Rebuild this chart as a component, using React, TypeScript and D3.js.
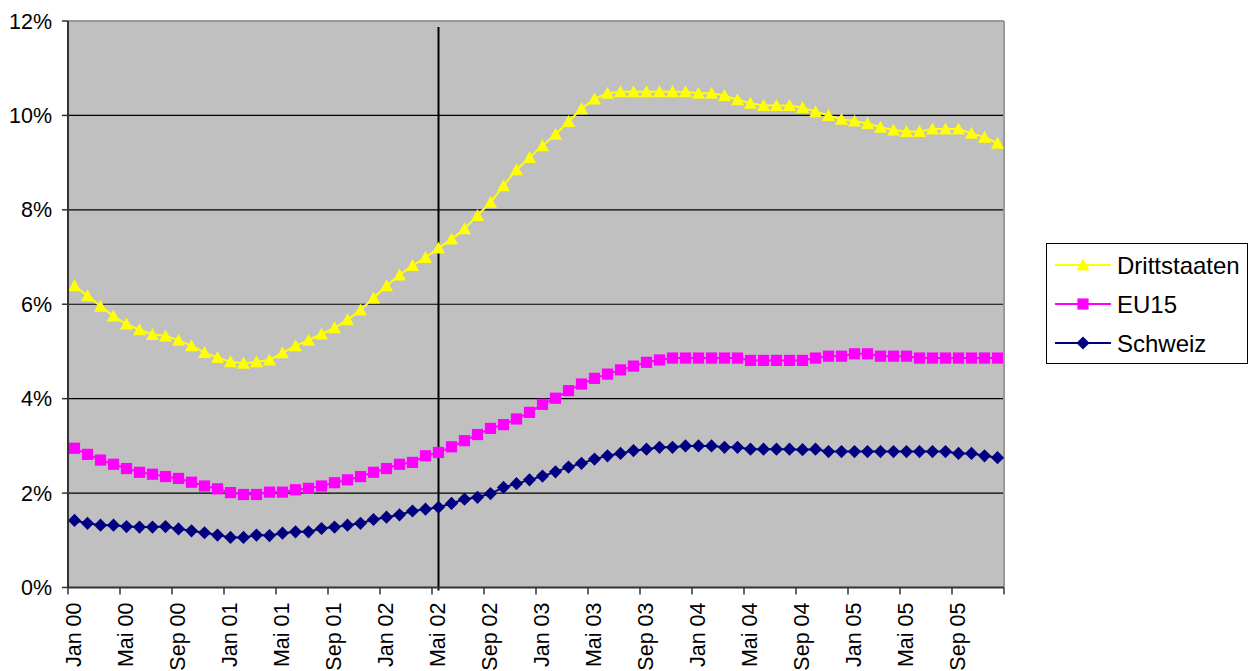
import React from 'react';
import * as d3 from 'd3';

// months Jan 00 .. Dez 05
const years = ['00', '01', '02', '03', '04', '05'];
const monthNames = ['Jan', 'Feb', 'Mär', 'Apr', 'Mai', 'Jun', 'Jul', 'Aug', 'Sep', 'Okt', 'Nov', 'Dez'];
const categories = years.flatMap(y => monthNames.map(m => `${m} ${y}`));

const drittstaaten = [
	6.39, 6.18, 5.96, 5.75, 5.58, 5.46, 5.36, 5.33, 5.24, 5.12, 4.98, 4.87,
	4.78, 4.75, 4.78, 4.82, 4.97, 5.12, 5.24, 5.37, 5.5, 5.67, 5.88, 6.13,
	6.39, 6.62, 6.82, 6.99, 7.19, 7.38, 7.6, 7.88, 8.16, 8.51, 8.85, 9.11,
	9.36, 9.6, 9.87, 10.14, 10.35, 10.47, 10.5, 10.5, 10.5, 10.5, 10.5, 10.5,
	10.47, 10.47, 10.42, 10.33, 10.26, 10.21, 10.21, 10.21, 10.17, 10.08, 10.0, 9.92,
	9.88, 9.83, 9.75, 9.69, 9.66, 9.66, 9.71, 9.71, 9.71, 9.62, 9.54, 9.41,
];
const eu15 = [
	2.95, 2.82, 2.7, 2.61, 2.52, 2.44, 2.4, 2.35, 2.31, 2.23, 2.15, 2.09,
	2.01, 1.97, 1.97, 2.02, 2.02, 2.07, 2.1, 2.15, 2.22, 2.28, 2.35, 2.44,
	2.52, 2.61, 2.65, 2.79, 2.86, 2.98, 3.11, 3.24, 3.37, 3.45, 3.57, 3.71,
	3.88, 4.01, 4.17, 4.31, 4.43, 4.52, 4.61, 4.69, 4.77, 4.82, 4.86, 4.86,
	4.86, 4.86, 4.86, 4.86, 4.81, 4.81, 4.81, 4.81, 4.81, 4.86, 4.9, 4.9,
	4.95, 4.95, 4.9, 4.9, 4.9, 4.86, 4.86, 4.86, 4.86, 4.86, 4.86, 4.86,
];
const schweiz = [
	1.42, 1.36, 1.32, 1.32, 1.29, 1.28, 1.28, 1.29, 1.24, 1.2, 1.16, 1.11,
	1.06, 1.06, 1.11, 1.1, 1.15, 1.18, 1.18, 1.25, 1.28, 1.32, 1.36, 1.44,
	1.49, 1.54, 1.62, 1.66, 1.7, 1.78, 1.87, 1.91, 1.99, 2.12, 2.2, 2.28,
	2.36, 2.45, 2.55, 2.63, 2.72, 2.79, 2.84, 2.9, 2.93, 2.97, 2.97, 3.0,
	3.0, 3.0, 2.97, 2.97, 2.93, 2.93, 2.93, 2.93, 2.92, 2.93, 2.88, 2.88,
	2.88, 2.88, 2.88, 2.88, 2.88, 2.88, 2.88, 2.88, 2.84, 2.84, 2.79, 2.75,
];
const yTicks = [0, 2, 4, 6, 8, 10, 12];
const markerMonth = 'Mai 02';

const series = [
	{ name: 'Drittstaaten', values: drittstaaten, color: '#FFFF00', shape: 'triangle' },
	{ name: 'EU15', values: eu15, color: '#FF00FF', shape: 'square' },
	{ name: 'Schweiz', values: schweiz, color: '#000080', shape: 'diamond' },
];

const W = 1256;
const H = 671;
const left = 68, right = 1004, top = 21, bottom = 587.5;

function markerPath(shape: string) {
	if (shape === 'triangle') return 'M0,-6.5L6.5,5.5L-6.5,5.5Z';
	if (shape === 'square') return 'M-5.6,-5.6H5.6V5.6H-5.6Z';
	return 'M0,-6.6L6.6,0L0,6.6L-6.6,0Z';
}

function App() {
	const x = d3.scaleBand<string>().domain(categories).range([left, right]).padding(0);
	const y = d3.scaleLinear().domain([0, 12]).range([bottom, top]);
	const cx = (c: string) => (x(c) as number) + x.bandwidth() / 2;

	const line = d3.line<number>()
		.x((d, i) => cx(categories[i]))
		.y(d => y(d));

	const tickCats = categories.filter((c, i) => i % 4 === 0);
	const font = 'Arial, "Liberation Sans", sans-serif';

	return (
		<svg width={W} height={H} style={{ position: 'absolute', left: 0, top: 0, background: '#fff' }} fontFamily={font}>
			<rect x={left} y={top} width={right - left} height={bottom - top} fill="#C0C0C0" />
			{yTicks.filter(t => t > 0 && t < 12).map(t => (
				<line key={t} x1={left} x2={right} y1={y(t)} y2={y(t)} stroke="#000" strokeWidth={1.2} />
			))}
			{/* plot border */}
			<line x1={left} x2={right} y1={top} y2={top} stroke="#999" strokeWidth={2} />
			<line x1={right} x2={right} y1={top} y2={bottom} stroke="#999" strokeWidth={2} />

			{/* marker line at Mai 02 */}
			<line x1={cx(markerMonth)} x2={cx(markerMonth)} y1={27} y2={bottom + 3} stroke="#000" strokeWidth={2} />

			{series.map(s => (
				<g key={s.name}>
					<path d={line(s.values) || ''} fill="none" stroke={s.color} strokeWidth={2} />
					{s.values.map((v, i) => (
						<path key={i} d={markerPath(s.shape)} transform={`translate(${cx(categories[i])},${y(v)})`} fill={s.color} />
					))}
				</g>
			))}

			{/* y axis */}
			<line x1={left} x2={left} y1={top} y2={bottom} stroke="#333" strokeWidth={2} />
			{yTicks.map(t => (
				<g key={t}>
					<line x1={left - 6} x2={left} y1={y(t)} y2={y(t)} stroke="#333" strokeWidth={1.5} />
					<text x={52} y={y(t)} dy="0.35em" textAnchor="end" fontSize={21.5}>{t}%</text>
				</g>
			))}

			{/* x axis */}
			<line x1={left} x2={right} y1={bottom} y2={bottom} stroke="#333" strokeWidth={2} />
			{tickCats.map(c => (
				<line key={c} x1={x(c)} x2={x(c)} y1={bottom} y2={bottom + 7} stroke="#333" strokeWidth={1.5} />
			))}
			<line x1={right} x2={right} y1={bottom} y2={bottom + 7} stroke="#333" strokeWidth={1.5} />
			{tickCats.map(c => (
				<text key={c} transform={`translate(${cx(c) - 1},${bottom + 15}) rotate(-90)`} dy="0.36em" textAnchor="end" fontSize={21.5}>{c}</text>
			))}

			{/* legend */}
			<rect x={1046.5} y={243.5} width={201} height={120} fill="#fff" stroke="#000" strokeWidth={1} />
			{series.map((s, i) => {
				const ly = 265 + i * 39;
				return (
					<g key={s.name}>
						<line x1={1055} x2={1111} y1={ly} y2={ly} stroke={s.color} strokeWidth={2} />
						<path d={markerPath(s.shape)} transform={`translate(1083,${ly})`} fill={s.color} />
						<text x={1117} y={ly} dy="0.36em" fontSize={24}>{s.name}</text>
					</g>
				);
			})}
		</svg>
	);
}

export default App;
